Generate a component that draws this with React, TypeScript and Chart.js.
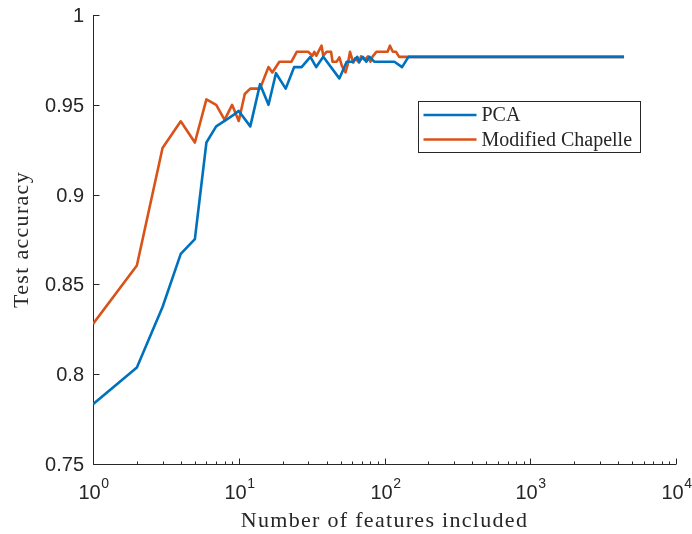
import React, { useEffect, useRef } from "react";
import { Chart, registerables } from "chart.js";

Chart.register(...registerables);

// Test accuracy versus number of retained features, for two feature-selection methods.
const pcaFeatureCounts = [
  1, 2, 3, 4, 5, 6, 7, 8, 9, 10,
  12, 14, 16, 18, 21, 24, 27, 31, 34, 38,
  49, 55, 61, 65, 67, 71, 75, 79, 85, 117,
  132, 146, 4400,
];
const pcaAccuracy = [
  0.7833, 0.8037, 0.8374, 0.867, 0.8752, 0.929, 0.938, 0.941, 0.9438, 0.9466,
  0.938, 0.9615, 0.95, 0.9676, 0.959, 0.971, 0.971, 0.9767, 0.971, 0.9767,
  0.9647, 0.974, 0.974, 0.9767, 0.974, 0.9767, 0.974, 0.9767, 0.974, 0.974,
  0.971, 0.9767, 0.9767,
];

const chapelleFeatureCounts = [
  1, 2, 3, 4, 5, 6, 7, 8, 9, 10,
  11, 12, 14, 16, 17, 19, 23, 25, 30, 32,
  33, 34, 37, 38, 40, 43, 44, 47, 49, 51,
  54, 56, 58, 61, 63, 67, 69, 73, 77, 80,
  83, 88, 105, 109, 114, 120, 126, 4400,
];
const chapelleAccuracy = [
  0.828, 0.8605, 0.926, 0.9408, 0.929, 0.953, 0.95, 0.9416, 0.95, 0.941,
  0.956, 0.959, 0.959, 0.971, 0.968, 0.974, 0.974, 0.9795, 0.9795, 0.9773,
  0.9795, 0.9773, 0.9829, 0.9773, 0.9795, 0.9795, 0.974, 0.974, 0.9764, 0.9717,
  0.968, 0.9726, 0.9795, 0.9735, 0.976, 0.9735, 0.977, 0.975, 0.977, 0.974,
  0.977, 0.9795, 0.9795, 0.9829, 0.9795, 0.9795, 0.9767, 0.9767,
];

const seriesNames = ["PCA", "Modified Chapelle"];
const seriesColors = ["#0072BD", "#D95319"];

const yTickValues = [0.75, 0.8, 0.85, 0.9, 0.95, 1];
const yTickLabels = ["0.75", "0.8", "0.85", "0.9", "0.95", "1"];
const xDecadeExponents = [0, 1, 2, 3, 4];
const xMinorMultipliers = [2, 3, 4, 5, 6, 7, 8, 9];

const xAxisTitle = "Number of features included";
const yAxisTitle = "Test accuracy";

const WIDTH = 692;
const HEIGHT = 534;
const AXIS_COLOR = "#262626";
const SANS = "'Liberation Sans', Arial, sans-serif";
const SERIF = "'Liberation Serif', 'Times New Roman', serif";

const toPoints = (xs: number[], ys: number[]) => xs.map((x, i) => ({ x, y: ys[i] }));

// Inward-ticked axes with "10^n" labels, plus axis titles.
const axesPlugin = {
  id: "inwardAxes",
  beforeDatasetsDraw(chart: any) {
    const { ctx, chartArea: a, scales } = chart;
    const xs = scales.x;
    const ys = scales.y;
    const L = Math.round(a.left) + 0.5;
    const B = Math.round(a.bottom) + 0.5;
    ctx.save();
    ctx.strokeStyle = AXIS_COLOR;
    ctx.lineWidth = 1;
    ctx.beginPath();
    ctx.moveTo(L, a.top);
    ctx.lineTo(L, B);
    ctx.lineTo(a.right, B);
    ctx.stroke();

    // y ticks and labels
    ctx.fillStyle = AXIS_COLOR;
    ctx.font = `20px ${SANS}`;
    ctx.textAlign = "right";
    ctx.textBaseline = "middle";
    yTickValues.forEach((v, i) => {
      const py = Math.round(ys.getPixelForValue(v)) + 0.5;
      ctx.beginPath();
      ctx.moveTo(L, py);
      ctx.lineTo(L + 6, py);
      ctx.stroke();
      ctx.fillText(yTickLabels[i], a.left - 9, py + 1);
    });

    // x ticks: decades (major) and 2..9 (minor)
    xDecadeExponents.forEach((e) => {
      const base = Math.pow(10, e);
      const px = Math.round(xs.getPixelForValue(base)) + 0.5;
      ctx.beginPath();
      ctx.moveTo(px, B);
      ctx.lineTo(px, B - 6);
      ctx.stroke();
      if (e < xDecadeExponents[xDecadeExponents.length - 1]) {
        xMinorMultipliers.forEach((m) => {
          const mx = Math.round(xs.getPixelForValue(base * m)) + 0.5;
          ctx.beginPath();
          ctx.moveTo(mx, B);
          ctx.lineTo(mx, B - 3);
          ctx.stroke();
        });
      }
      // label "10" with superscript exponent
      ctx.font = `20px ${SANS}`;
      const baseW = ctx.measureText("10").width;
      ctx.font = `14px ${SANS}`;
      const expW = ctx.measureText(String(e)).width;
      const startX = px - (baseW + expW) / 2;
      ctx.textAlign = "left";
      ctx.textBaseline = "alphabetic";
      ctx.font = `20px ${SANS}`;
      ctx.fillText("10", startX, a.bottom + 35);
      ctx.font = `14px ${SANS}`;
      ctx.fillText(String(e), startX + baseW + 0.5, a.bottom + 24);
    });

    // axis titles
    ctx.fillStyle = "#262626";
    ctx.font = `22px ${SERIF}`;
    (ctx as any).letterSpacing = "1.3px";
    ctx.textAlign = "center";
    ctx.textBaseline = "middle";
    ctx.fillText(xAxisTitle, (a.left + a.right) / 2, a.bottom + 57);
    ctx.save();
    ctx.translate(22, (a.top + a.bottom) / 2);
    ctx.rotate(-Math.PI / 2);
    ctx.fillText(yAxisTitle, 0, 0);
    ctx.restore();
    (ctx as any).letterSpacing = "0px";
    ctx.restore();
  },
  afterDatasetsDraw(chart: any) {
    // boxed legend inside the plot area
    const { ctx, chartArea: a } = chart;
    const bx = Math.round(a.left + 325) + 0.5;
    const by = Math.round(a.top + 86) + 0.5;
    const bw = 222;
    const bh = 51;
    ctx.save();
    ctx.fillStyle = "#ffffff";
    ctx.fillRect(bx, by, bw, bh);
    ctx.strokeStyle = "#262626";
    ctx.lineWidth = 1;
    ctx.strokeRect(bx, by, bw, bh);
    ctx.font = `20px ${SERIF}`;
    ctx.textAlign = "left";
    ctx.textBaseline = "middle";
    seriesNames.forEach((name, i) => {
      const ly = by + 13.5 + i * 24.5;
      ctx.strokeStyle = seriesColors[i];
      ctx.lineWidth = 2.5;
      ctx.beginPath();
      ctx.moveTo(bx + 5, ly);
      ctx.lineTo(bx + 58, ly);
      ctx.stroke();
      ctx.fillStyle = "#262626";
      ctx.fillText(name, bx + 63, ly + 1);
    });
    ctx.restore();
  },
};

export default function App() {
  const canvasRef = useRef<HTMLCanvasElement | null>(null);

  useEffect(() => {
    const canvas = canvasRef.current;
    if (!canvas) return;
    const chart = new Chart(canvas, {
      type: "line",
      data: {
        datasets: [
          {
            label: seriesNames[0],
            data: toPoints(pcaFeatureCounts, pcaAccuracy),
            borderColor: seriesColors[0],
            borderWidth: 2.6,
            pointRadius: 0,
            tension: 0,
            borderJoinStyle: "round",
            fill: false,
          },
          {
            label: seriesNames[1],
            data: toPoints(chapelleFeatureCounts, chapelleAccuracy),
            borderColor: seriesColors[1],
            borderWidth: 2.6,
            pointRadius: 0,
            tension: 0,
            borderJoinStyle: "round",
            fill: false,
          },
        ],
      },
      options: {
        responsive: false,
        animation: false,
        layout: { padding: { left: 0, top: 15, right: 16, bottom: 0 } },
        plugins: {
          legend: { display: false },
          tooltip: { enabled: false },
        },
        scales: {
          x: {
            type: "logarithmic",
            min: 1,
            max: 10000,
            ticks: { display: false },
            grid: { display: false },
            border: { display: false },
            afterFit: (s: any) => {
              s.height = 70;
            },
          },
          y: {
            type: "linear",
            min: 0.75,
            max: 1,
            ticks: { display: false },
            grid: { display: false },
            border: { display: false },
            afterFit: (s: any) => {
              s.width = 93;
            },
          },
        },
      },
      plugins: [axesPlugin],
    });
    return () => chart.destroy();
  }, []);

  return (
    <div style={{ position: "absolute", left: 0, top: 0, width: WIDTH, height: HEIGHT, background: "#ffffff" }}>
      <canvas ref={canvasRef} width={WIDTH} height={HEIGHT} style={{ display: "block" }} />
    </div>
  );
}
